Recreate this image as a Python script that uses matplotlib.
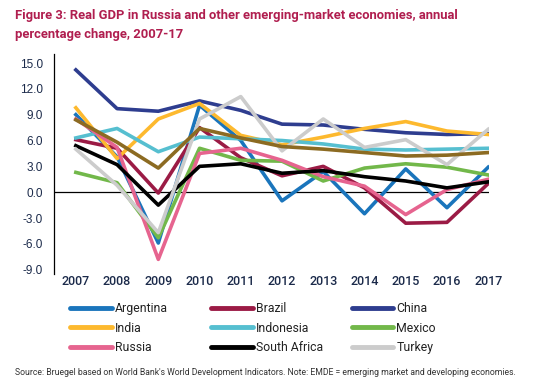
import matplotlib.pyplot as plt

years = [2007, 2008, 2009, 2010, 2011, 2012, 2013, 2014, 2015, 2016, 2017]

argentina = [9.0, 4.1, -5.9, 10.1, 6.0, -1.0, 2.4, -2.5, 2.7, -1.8, 2.9]
brazil = [6.1, 5.1, -0.1, 7.5, 4.0, 1.9, 3.0, 0.5, -3.6, -3.5, 1.0]
china = [14.2, 9.7, 9.4, 10.6, 9.5, 7.9, 7.8, 7.3, 6.9, 6.7, 6.8]
india = [9.8, 3.9, 8.5, 10.3, 6.6, 5.5, 6.4, 7.4, 8.2, 7.1, 6.7]
indonesia = [6.3, 7.4, 4.7, 6.4, 6.2, 6.0, 5.6, 5.0, 4.9, 5.0, 5.1]
mexico = [2.3, 1.1, -5.3, 5.1, 3.7, 3.6, 1.3, 2.8, 3.3, 2.9, 2.0]
russia = [8.5, 5.2, -7.8, 4.5, 5.1, 3.7, 1.8, 0.7, -2.6, 0.3, 1.5]
south_africa = [5.4, 3.2, -1.5, 3.0, 3.3, 2.2, 2.5, 1.8, 1.3, 0.5, 1.2]
turkey = [5.0, 0.8, -4.7, 8.5, 11.1, 4.8, 8.5, 5.2, 6.1, 3.2, 7.3]
emde = [8.4, 5.8, 2.8, 7.4, 6.3, 5.3, 5.0, 4.6, 4.2, 4.3, 4.6]

countries = ["Argentina", "Brazil", "China", "India", "Indonesia", "Mexico",
             "Russia", "South Africa", "Turkey"]
series = [argentina, brazil, china, india, indonesia, mexico, russia,
          south_africa, turkey]
colors = ["#1A75BC", "#9B1B45", "#2E3D8F", "#FDB92E", "#56BFD0", "#72B84A",
          "#E6648F", "#000000", "#CCCCCC"]

narrow = "Roboto"

fig = plt.figure(figsize=(5.47, 3.91), dpi=100)
ax = fig.add_axes([0.0987, 0.2992, 0.7953, 0.5628])

ax.axhline(0, color="black", linewidth=0.9, zorder=1)
lines = []
for name, vals, c in zip(countries, series, colors):
    l, = ax.plot(years, vals, color=c, linewidth=2.6, label=name, zorder=2)
    lines.append(l)
ax.plot(years, emde, color="#8C6B22", linewidth=2.6, zorder=2)

ax.set_xlim(2006.47, 2017.02)
ax.set_ylim(-9.5, 16.05)
ax.set_yticks(range(-9, 16, 3))
ax.set_yticklabels([f"{v:.1f}" for v in range(-9, 16, 3)], fontsize=8.5,
                   color="#1B2A4A", family="Liberation Sans")
ax.set_xticks(years)
ax.set_xticklabels([str(y) for y in years], fontsize=9, family=narrow,
                   fontweight="medium", color="#1B2A4A")
ax.tick_params(axis="both", length=0)
ax.tick_params(axis="x", pad=0.5)
ax.tick_params(axis="y", pad=8)
for s in ["top", "right", "bottom"]:
    ax.spines[s].set_visible(False)
ax.spines["left"].set_linewidth(0.9)

# legend: three fixed-width columns, filled row by row
col_x = [0.128, 0.386, 0.643]
for i, x0 in enumerate(col_x):
    hs = lines[i::3]
    leg = fig.legend(hs, [h.get_label() for h in hs], loc="upper left",
                     bbox_to_anchor=(x0, 0.228), frameon=False,
                     handlelength=3.4, handletextpad=0.25, labelspacing=0.55,
                     borderpad=0, borderaxespad=0,
                     prop={"family": narrow, "size": 8.8})
    for ln in leg.get_lines():
        ln.set_linewidth(3.5)
        ln.set_solid_capstyle("round")
    for t in leg.get_texts():
        t.set_color("#222222")

fig.text(0.027, 0.978, "Figure 3: Real GDP in Russia and other emerging-market economies, annual\npercentage change, 2007-17",
         ha="left", va="top", fontsize=9.4, fontweight="bold", family=narrow,
         color="#B01E4F", linespacing=1.6)
fig.text(0.027, 0.047, "Source: Bruegel based on World Bank's World Development Indicators. Note: EMDE = emerging market and developing economies.",
         ha="left", va="center", fontsize=6.2, family=narrow, color="#333333")

fig.savefig("out.png", dpi=100)
